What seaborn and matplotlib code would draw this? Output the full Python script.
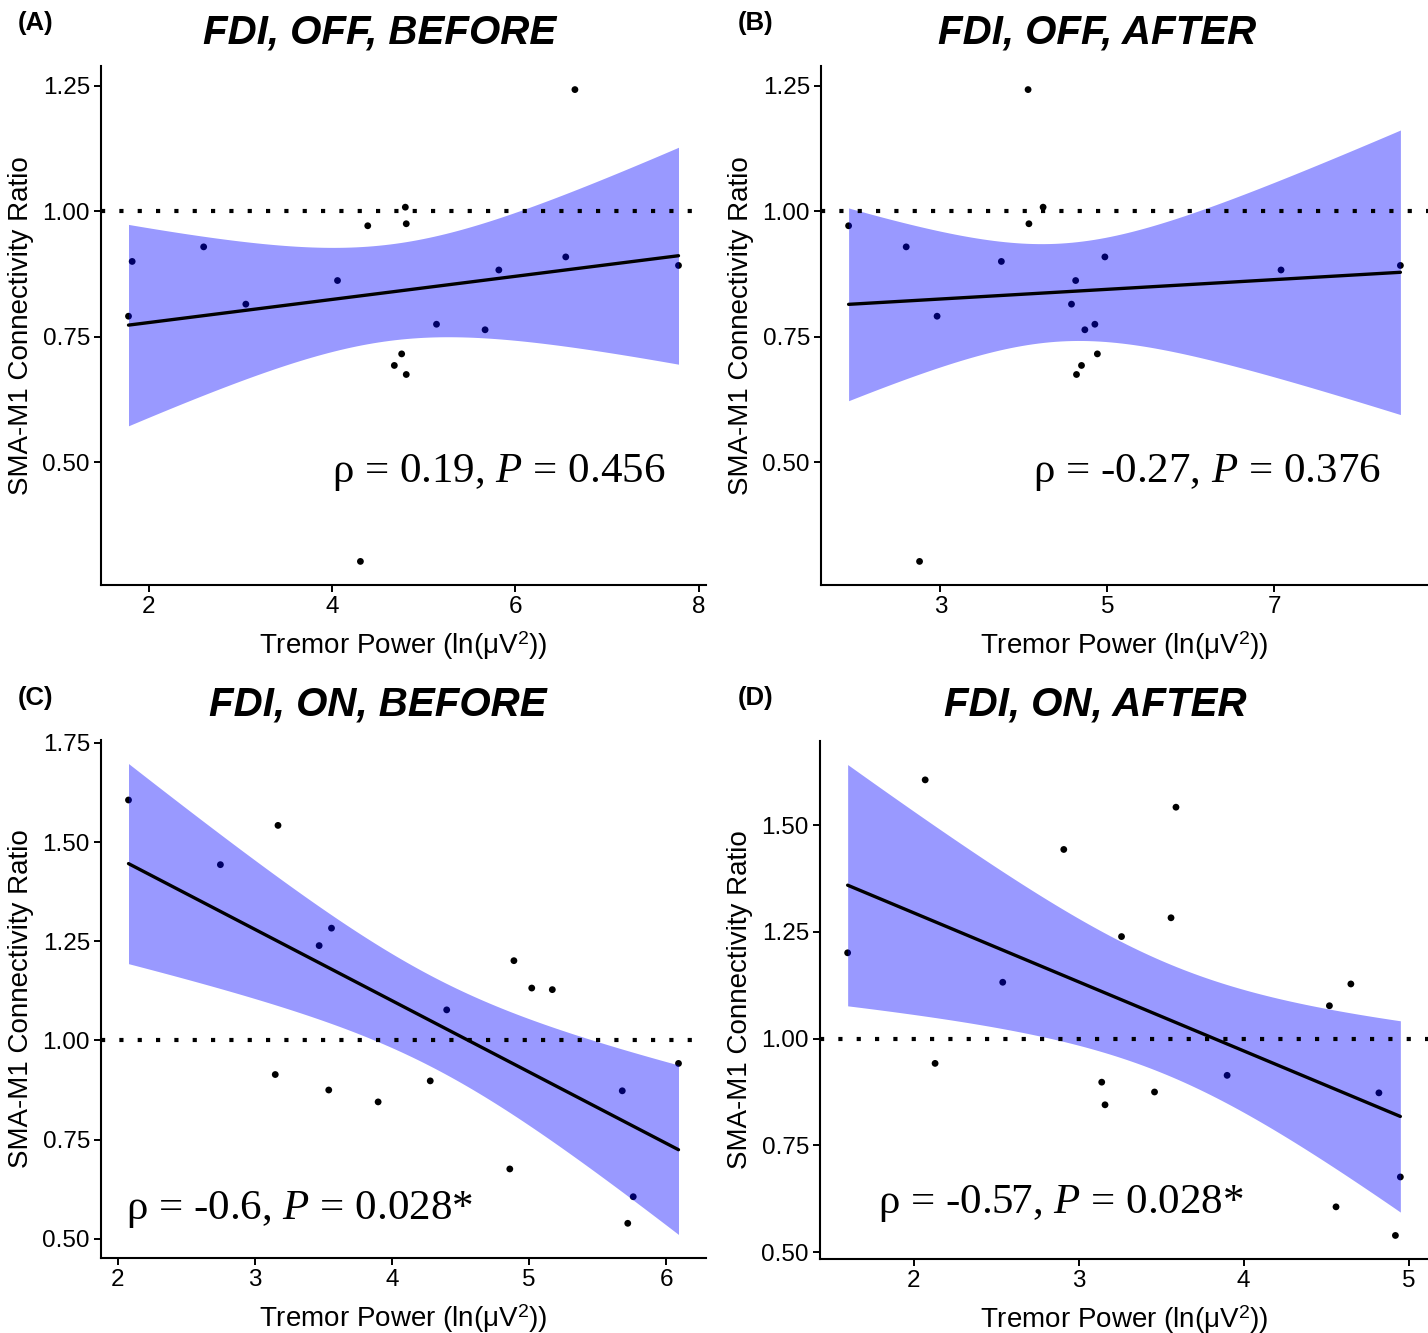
import numpy as np
import pandas as pd
import matplotlib
matplotlib.use('Agg')
import matplotlib.pyplot as plt
import seaborn as sns

# Dados (18 pacientes por painel)
off_ratio = [1.242, 1.008, 0.971, 0.975, 0.929, 0.900, 0.909, 0.892, 0.883,
             0.862, 0.815, 0.791, 0.775, 0.764, 0.716, 0.693, 0.675, 0.303]
off_before_power = [6.65, 4.80, 4.39, 4.81, 2.60, 1.82, 6.55, 7.78, 5.82,
                    4.06, 3.06, 1.78, 5.14, 5.67, 4.76, 4.68, 4.81, 4.31]
off_after_power = [4.05, 4.23, 1.90, 4.06, 2.59, 3.73, 4.97, 8.51, 7.08,
                   4.62, 4.57, 2.96, 4.85, 4.73, 4.88, 4.69, 4.63, 2.75]

on_ratio = [1.606, 1.542, 1.443, 1.283, 1.239, 1.201, 1.132, 1.128, 1.077,
            0.942, 0.914, 0.898, 0.875, 0.873, 0.845, 0.676, 0.606, 0.539]
on_before_power = [2.08, 3.17, 2.75, 3.56, 3.47, 4.89, 5.02, 5.17, 4.40,
                   6.09, 3.15, 4.28, 3.54, 5.68, 3.90, 4.86, 5.76, 5.72]
on_after_power = [2.07, 3.59, 2.91, 3.56, 3.26, 1.60, 2.54, 4.65, 4.52,
                  2.13, 3.90, 3.14, 3.46, 4.82, 3.16, 4.95, 4.56, 4.92]

titulos = ['FDI, OFF, BEFORE', 'FDI, OFF, AFTER', 'FDI, ON, BEFORE', 'FDI, ON, AFTER']
rotulos = ['(A)', '(B)', '(C)', '(D)']
anotacoes = [r'ρ = 0.19, $\mathit{P}$ = 0.456', r'ρ = -0.27, $\mathit{P}$ = 0.376',
             r'ρ = -0.6, $\mathit{P}$ = 0.028*', r'ρ = -0.57, $\mathit{P}$ = 0.028*']
pos_anotacao = [(5.82, 0.461), (6.19, 0.461), (3.33, 0.550), (2.89, 0.591)]
xticks = [[2, 4, 6, 8], [3, 5, 7], [2, 3, 4, 5, 6], [2, 3, 4, 5]]
yticks = [[0.50, 0.75, 1.00, 1.25], [0.50, 0.75, 1.00, 1.25],
          [0.50, 0.75, 1.00, 1.25, 1.50, 1.75], [0.50, 0.75, 1.00, 1.25, 1.50]]

paineis = [(off_before_power, off_ratio), (off_after_power, off_ratio),
           (on_before_power, on_ratio), (on_after_power, on_ratio)]

# Configurações
sns.set_theme(style='ticks')
plt.rcParams['font.family'] = ['Liberation Sans', 'DejaVu Sans']
plt.rcParams['mathtext.fontset'] = 'custom'
plt.rcParams['mathtext.rm'] = 'Liberation Sans'
plt.rcParams['mathtext.it'] = 'Liberation Serif:italic'
for k in ['text.color', 'axes.labelcolor', 'xtick.color', 'ytick.color', 'axes.edgecolor']:
    plt.rcParams[k] = 'black'

try:
    from scipy import stats
    def t_crit(df):
        return stats.t.ppf(0.975, df)
except ImportError:
    def t_crit(df):
        return {14: 2.1448, 15: 2.1314, 16: 2.1199, 17: 2.1098, 18: 2.1009}.get(df, 2.12)


# Função: ajuste linear com IC 95% (como geom_smooth(method='lm'))
def ajuste_lm(x, y, n_pts=100):
    x = np.asarray(x)
    y = np.asarray(y)
    n = len(x)
    b1, b0 = np.polyfit(x, y, 1)
    resid = y - (b0 + b1 * x)
    s = np.sqrt(np.sum(resid ** 2) / (n - 2))
    sxx = np.sum((x - x.mean()) ** 2)
    xg = np.linspace(x.min(), x.max(), n_pts)
    yg = b0 + b1 * xg
    se = s * np.sqrt(1 / n + (xg - x.mean()) ** 2 / sxx)
    t = t_crit(n - 2)
    return pd.DataFrame({'x': xg, 'fit': yg, 'lo': yg - t * se, 'hi': yg + t * se})


W, H = 1428, 1333
fig = plt.figure(figsize=(W / 100, H / 100), dpi=100)

caixas = [(101, 66, 706, 585), (821, 66, 1428, 585),
          (101, 740, 706, 1258), (820, 741, 1428, 1259)]
titulo_x = [380, 1097, 378, 1095]
titulo_y = [32, 32, 705, 705]
rotulo_x = [18, 738, 18, 738]
rotulo_y = [23, 23, 698, 698]

for i, (xs, ys) in enumerate(paineis):
    l, t, r, b = caixas[i]
    ax = fig.add_axes([l / W, 1 - b / H, (r - l) / W, (b - t) / H])
    df = pd.DataFrame({'power': xs, 'ratio': ys})
    fit = ajuste_lm(xs, ys)

    sns.scatterplot(data=df, x='power', y='ratio', ax=ax, color='black', s=24,
                    edgecolor='none', zorder=2)
    ax.fill_between(fit['x'], fit['lo'], fit['hi'], color='blue', alpha=0.4,
                    linewidth=0, zorder=3)
    sns.lineplot(data=fit, x='x', y='fit', ax=ax, color='black', lw=2.4, zorder=4)
    ax.axhline(1.0, color='black', lw=3.0, linestyle=(0, (1, 3.4)),
               dash_capstyle='butt', zorder=5)

    # limites com expansão de 5% (padrão ggplot)
    xmin, xmax = min(xs), max(xs)
    ymin = min(min(ys), fit['lo'].min())
    ymax = max(max(ys), fit['hi'].max())
    ax.set_xlim(xmin - 0.05 * (xmax - xmin), xmax + 0.05 * (xmax - xmin))
    ax.set_ylim(ymin - 0.05 * (ymax - ymin), ymax + 0.05 * (ymax - ymin))

    ax.set_xticks(xticks[i])
    ax.set_yticks(yticks[i])
    ax.set_yticklabels([f'{v:.2f}' for v in yticks[i]])
    ax.tick_params(labelsize=17.5, width=1.4, length=5, color='black', labelcolor='black', pad=3)
    for sp in ['left', 'bottom']:
        ax.spines[sp].set_linewidth(1.5)
        ax.spines[sp].set_color('black')
    sns.despine(ax=ax)

    ax.set_xlabel(r'Tremor Power (ln(μV$^2$))', fontsize=20, labelpad=8)
    ax.set_ylabel('SMA-M1 Connectivity Ratio', fontsize=20, labelpad=6)

    ax.text(pos_anotacao[i][0], pos_anotacao[i][1], anotacoes[i], fontsize=31,
            family=['Liberation Serif', 'DejaVu Serif'], ha='center', va='baseline', zorder=6)

    fig.text(titulo_x[i] / W, 1 - titulo_y[i] / H, titulos[i], fontsize=29,
             fontweight='bold', fontstyle='italic', ha='center', va='center')
    fig.text(rotulo_x[i] / W, 1 - rotulo_y[i] / H, rotulos[i], fontsize=18.5,
             fontweight='bold', ha='left', va='center')

fig.savefig('out.png', dpi=100)
